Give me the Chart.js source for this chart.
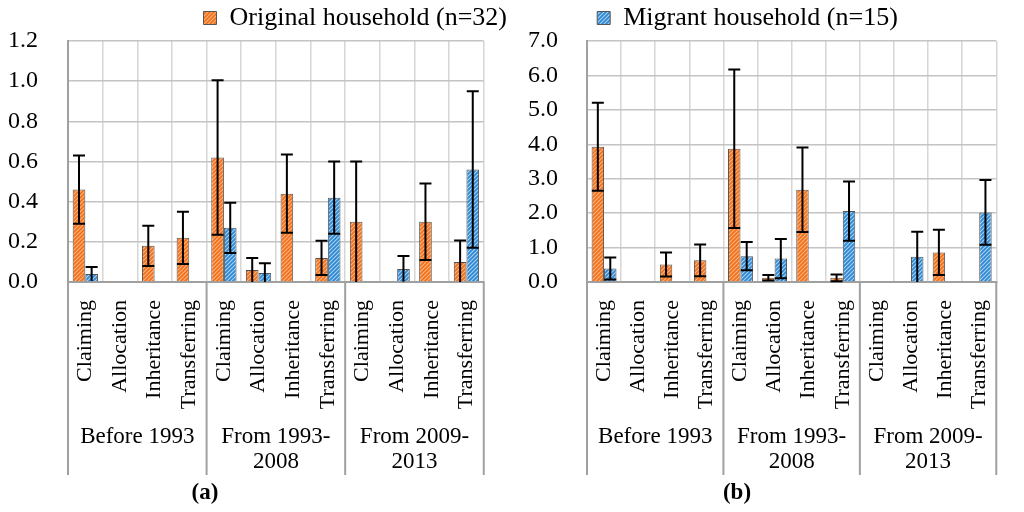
<!DOCTYPE html>
<html>
<head>
<meta charset="utf-8">
<script src="https://cdn.jsdelivr.net/npm/chart.js@4.4.1/dist/chart.umd.min.js"></script>
<style>
  body { margin: 0; background: #fff; }
  #page { position: relative; width: 1024px; height: 512px; overflow: hidden; }
  .wrap { position: absolute; top: 0; height: 512px; }
  #wa { left: 0; width: 512px; }
  #wb { left: 480px; width: 544px; }
  .tag { position: absolute; top: 479px; width: 60px; text-align: center;
         font: bold 23px 'Liberation Serif', serif; color: #000; }
</style>
</head>
<body>
<div id="page">
  <div class="wrap" id="wa"><canvas id="chartA"></canvas></div>
  <div class="wrap" id="wb"><canvas id="chartB"></canvas></div>
  <div class="tag" style="left:175px">(a)</div>
  <div class="tag" style="left:707px">(b)</div>
</div>
<script>
var categories = ['Claiming', 'Allocation', 'Inheritance', 'Transferring',
  'Claiming', 'Allocation', 'Inheritance', 'Transferring',
  'Claiming', 'Allocation', 'Inheritance', 'Transferring'];
var groups = [['Before 1993'], ['From 1993-', '2008'], ['From 2009-', '2013']];

// panel (a)
var aOriginal = [0.46, null, 0.18, 0.22, 0.62, 0.06, 0.44, 0.12, 0.30, null, 0.30, 0.10];
var aOriginalErr = [0.17, 0, 0.10, 0.13, 0.385, 0.06, 0.195, 0.085, 0.30, 0, 0.19, 0.107];
var aMigrant = [0.04, null, null, null, 0.27, 0.045, null, 0.42, null, 0.065, null, 0.56];
var aMigrantErr = [0.035, 0, 0, 0, 0.125, 0.048, 0, 0.18, 0, 0.064, 0, 0.39];

// panel (b)
var bOriginal = [3.93, null, 0.51, 0.63, 3.87, 0.12, 2.68, 0.12, null, null, 0.86, null];
var bOriginalErr = [1.28, 0, 0.35, 0.46, 2.3, 0.08, 1.23, 0.1, 0, 0, 0.66, 0];
var bMigrant = [0.39, null, null, null, 0.75, 0.68, null, 2.06, null, 0.73, null, 2.02];
var bMigrantErr = [0.32, 0, 0, 0, 0.41, 0.57, 0, 0.86, 0, 0.73, 0, 0.94];

var originalLabel = 'Original household (n=32)';
var migrantLabel = 'Migrant household (n=15)';

Chart.defaults.font.family = "'Liberation Serif', 'DejaVu Serif', serif";
Chart.defaults.color = '#000';

function hatch(base, stripe) {
  const c = document.createElement('canvas');
  c.width = 4;
  c.height = 4;
  const g = c.getContext('2d');
  g.fillStyle = base;
  g.fillRect(0, 0, 4, 4);
  g.strokeStyle = stripe;
  g.lineWidth = 1.1;
  g.beginPath();
  g.moveTo(-1, 5); g.lineTo(5, -1);
  g.moveTo(-1, 1); g.lineTo(1, -1);
  g.moveTo(3, 5); g.lineTo(5, 3);
  g.stroke();
  return g.createPattern(c, 'repeat');
}

var orangeFill = hatch('#f0701c', '#ffb47c');
var blueFill = hatch('#2f86d2', '#a8d4f4');

// error bars, drawn from the bar positions
var errorBars = {
  id: 'errorBars',
  afterDatasetsDraw(chart) {
    const ctx = chart.ctx;
    const y = chart.scales.y;
    ctx.save();
    ctx.strokeStyle = '#000';
    ctx.lineWidth = 2;
    chart.data.datasets.forEach((ds, i) => {
      const meta = chart.getDatasetMeta(i);
      meta.data.forEach((bar, j) => {
        const v = ds.data[j];
        const e = ds.errors[j];
        if (v == null || !e) return;
        const top = y.getPixelForValue(v + e);
        const low = y.getPixelForValue(Math.max(v - e, 0));
        ctx.beginPath();
        ctx.moveTo(bar.x, top);
        ctx.lineTo(bar.x, low);
        ctx.moveTo(bar.x - 6, top);
        ctx.lineTo(bar.x + 6, top);
        if (v - e > 0.005) {
          ctx.moveTo(bar.x - 6, low);
          ctx.lineTo(bar.x + 6, low);
        }
        ctx.stroke();
      });
    });
    ctx.restore();
  }
};

// period separators below the axis
var groupLines = {
  id: 'groupLines',
  afterDraw(chart) {
    const ctx = chart.ctx;
    const xs = chart.scales.x;
    const bottom = chart.scales.x2.bottom;
    ctx.save();
    ctx.strokeStyle = '#a0a0a0';
    ctx.lineWidth = 2;
    for (let k = 0; k <= groups.length; k++) {
      const px = xs.getPixelForValue(k * 4 - 0.5);
      ctx.beginPath();
      ctx.moveTo(px, xs.top);
      ctx.lineTo(px, bottom);
      ctx.stroke();
    }
    ctx.restore();
  }
};

function makeChart(id, cfg) {
  const scales = {
    x: {
      offset: true,
      grid: {offset: true, color: '#d6d6d6', lineWidth: 1.5, drawTicks: false},
      border: {color: '#a0a0a0', width: 2},
      ticks: {font: {size: 22}, minRotation: 90, maxRotation: 90, padding: 18, autoSkip: false},
      afterFit: (s) => { s.height = 135; },
    },
    x2: {
      type: 'category',
      labels: groups,
      position: 'bottom',
      offset: true,
      grid: {display: false, drawTicks: false},
      border: {display: false},
      ticks: {font: {size: 23, lineHeight: 1.1}, maxRotation: 0, padding: 7, autoSkip: false},
      afterFit: (s) => { s.height = 58; },
    },
    y: {
      min: 0,
      max: cfg.max,
      grid: {color: '#c4c4c4', lineWidth: 1.5, drawTicks: false},
      border: {color: '#a0a0a0', width: 2},
      ticks: {stepSize: cfg.step, font: {size: 24}, padding: cfg.tickPad, callback: (v) => v.toFixed(1)},
      afterFit: (s) => {
        s.width = cfg.yWidth;
        s.paddingTop = 14;
        s.paddingBottom = 14;
      },
    },
  };
  if (cfg.rightGap) {
    scales.yr = {
      position: 'right',
      ticks: {display: false},
      grid: {display: false},
      border: {display: false},
      afterFit: (s) => { s.width = cfg.rightGap; },
    };
  }
  return new Chart(document.getElementById(id), {
    type: 'bar',
    data: {
      labels: categories,
      datasets: [{
        label: originalLabel,
        data: cfg.original,
        errors: cfg.originalErr,
        backgroundColor: orangeFill,
        borderColor: '#555',
        borderWidth: 1,
        categoryPercentage: 0.73,
        barPercentage: 1.0,
      }, {
        label: migrantLabel,
        data: cfg.migrant,
        errors: cfg.migrantErr,
        backgroundColor: blueFill,
        borderColor: '#555',
        borderWidth: 1,
        categoryPercentage: 0.73,
        barPercentage: 1.0,
      }],
    },
    options: {
      responsive: true,
      maintainAspectRatio: false,
      animation: false,
      layout: {padding: cfg.padding},
      scales: scales,
      plugins: {
        tooltip: {enabled: false},
        legend: {
          position: 'top',
          align: cfg.legendAlign,
          labels: {
            font: {size: 26},
            boxWidth: 13,
            boxHeight: 13,
            padding: 5,
            filter: (item) => item.datasetIndex === cfg.legendIndex,
          },
        },
      },
    },
    plugins: [errorBars, groupLines],
  });
}

makeChart('chartA', {
  original: aOriginal, originalErr: aOriginalErr,
  migrant: aMigrant, migrantErr: aMigrantErr,
  max: 1.2, step: 0.2, tickPad: 30, yWidth: 64, rightGap: 28,
  padding: {left: 4, right: 0, top: 0, bottom: 37},
  legendAlign: 'end', legendIndex: 0,
});

makeChart('chartB', {
  original: bOriginal, originalErr: bOriginalErr,
  migrant: bMigrant, migrantErr: bMigrantErr,
  max: 7, step: 1, tickPad: 29, yWidth: 107, rightGap: 0,
  padding: {left: 0, right: 9, top: 0, bottom: 37},
  legendAlign: 'center', legendIndex: 1,
});
</script>
</body>
</html>
